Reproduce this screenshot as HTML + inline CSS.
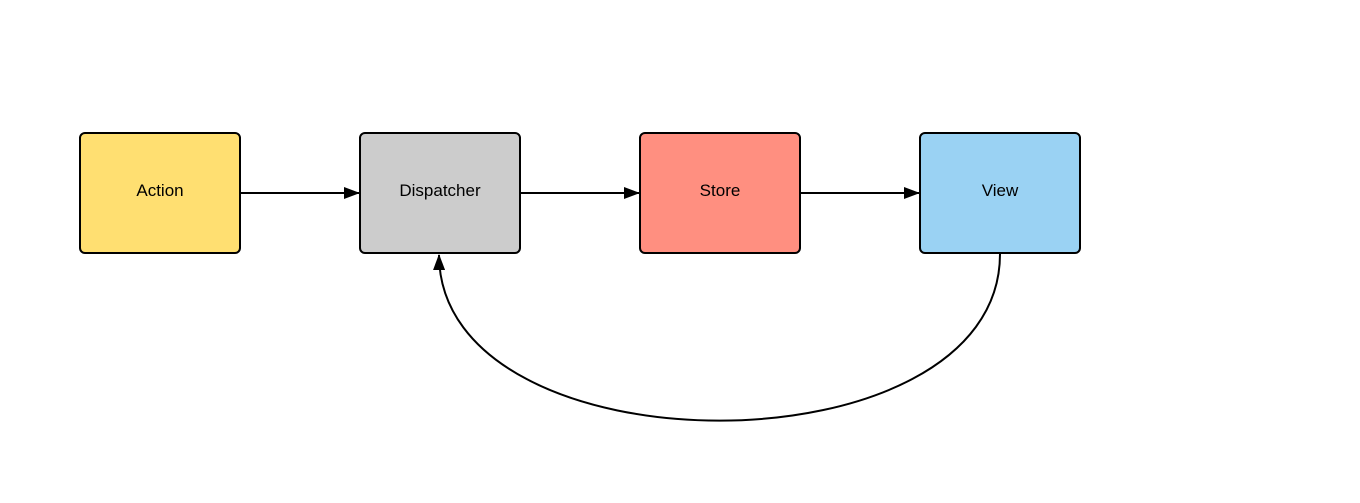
<!DOCTYPE html>
<html><head><style>
body{margin:0;background:#fff;}
svg{display:block;}
text{font-family:"Liberation Sans",sans-serif;font-size:17px;}
</style></head><body>
<svg width="1360" height="503" viewBox="0 0 1360 503">
<defs>
<marker id="a" markerWidth="16" markerHeight="12" refX="15" refY="6" orient="auto" markerUnits="userSpaceOnUse">
<path d="M0,0 L16,6 L0,12 Z" fill="#000"/>
</marker>
</defs>
<rect x="80" y="133" width="160" height="120" rx="5" fill="#ffdf71" stroke="#000" stroke-width="2"/>
<rect x="360" y="133" width="160" height="120" rx="5" fill="#cccccc" stroke="#000" stroke-width="2"/>
<rect x="640" y="133" width="160" height="120" rx="5" fill="#ff8f80" stroke="#000" stroke-width="2"/>
<rect x="920" y="133" width="160" height="120" rx="5" fill="#9ad2f3" stroke="#000" stroke-width="2"/>
<text x="160" y="196" text-anchor="middle">Action</text>
<text x="440" y="196" text-anchor="middle">Dispatcher</text>
<text x="720" y="196" text-anchor="middle">Store</text>
<text x="1000" y="196" text-anchor="middle">View</text>
<g stroke="#000" stroke-width="2" fill="none">
<line x1="241" y1="193" x2="359" y2="193" marker-end="url(#a)"/>
<line x1="521" y1="193" x2="639" y2="193" marker-end="url(#a)"/>
<line x1="801" y1="193" x2="919" y2="193" marker-end="url(#a)"/>
<path d="M1000,254 C1000,476 440,476 439,255" marker-end="url(#a)"/>
</g>
</svg>
</body></html>
